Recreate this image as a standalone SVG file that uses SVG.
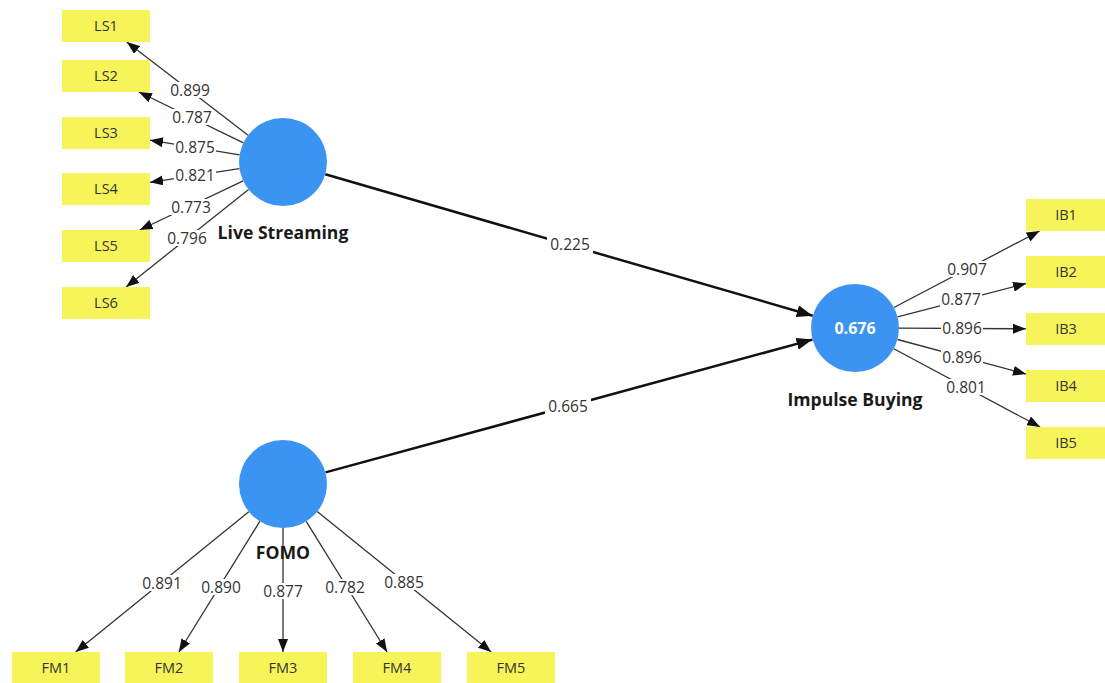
<svg xmlns="http://www.w3.org/2000/svg" width="1105" height="683" viewBox="0 0 1105 683">
<style>
.bg{fill:#ffffff}
.ind rect{fill:#F7F45A}
.ind text{font-family:"Open Sans","Noto Sans",sans-serif;font-size:14.5px;fill:#333;text-anchor:middle}
.lv circle{fill:#3C94F2}
.lvname{font-family:"Open Sans","Noto Sans",sans-serif;font-size:17.6px;font-weight:bold;fill:#1a1a1a;text-anchor:middle}
.r2{font-family:"Open Sans","Noto Sans",sans-serif;font-size:16px;font-weight:bold;fill:#ffffff;text-anchor:middle}
.ld{stroke:#333;stroke-width:1.3;fill:none;marker-end:url(#ah)}
.pth{stroke:#111;stroke-width:2.5;fill:none;marker-end:url(#ahb)}
.lb rect{fill:#ffffff}
.lb text{font-family:"Open Sans","Noto Sans",sans-serif;font-size:15.5px;fill:#333;text-anchor:middle}
</style>
<defs>
<marker id="ah" markerUnits="userSpaceOnUse" markerWidth="13" markerHeight="10" refX="13" refY="5" orient="auto"><path d="M0,0 L13,5 L0,10 z" fill="#111"/></marker>
<marker id="ahb" markerUnits="userSpaceOnUse" markerWidth="16" markerHeight="12" refX="16" refY="6" orient="auto"><path d="M0,0 L16,6 L0,12 z" fill="#111"/></marker>
</defs>
<rect class="bg" x="0" y="0" width="1105" height="683"/>
<g id="connectors">
<line class="pth" x1="325.3" y1="174.3" x2="812.7" y2="315.7"/>
<line class="pth" x1="325.5" y1="472.4" x2="812.5" y2="339.6"/>
<line class="ld" x1="248.1" y1="135.2" x2="126.8" y2="42"/>
<line class="ld" x1="243.4" y1="142.8" x2="138.9" y2="92"/>
<line class="ld" x1="239.6" y1="154.9" x2="150" y2="140.2"/>
<line class="ld" x1="239.5" y1="168.6" x2="150" y2="182.3"/>
<line class="ld" x1="243.2" y1="180.9" x2="139.7" y2="230"/>
<line class="ld" x1="248.6" y1="189.4" x2="126.1" y2="287"/>
<line class="ld" x1="893.9" y1="307.5" x2="1039.6" y2="231"/>
<line class="ld" x1="897.6" y1="316.9" x2="1026" y2="283.5"/>
<line class="ld" x1="899" y1="328.2" x2="1026" y2="328.8"/>
<line class="ld" x1="897.5" y1="339.5" x2="1026" y2="374.1"/>
<line class="ld" x1="893.8" y1="348.8" x2="1040.1" y2="427"/>
<line class="ld" x1="248.8" y1="511.7" x2="75.7" y2="652"/>
<line class="ld" x1="259.8" y1="521.4" x2="178.9" y2="652"/>
<line class="ld" x1="283" y1="528" x2="283" y2="652"/>
<line class="ld" x1="306.2" y1="521.4" x2="387.1" y2="652"/>
<line class="ld" x1="317.2" y1="511.6" x2="491.2" y2="652"/>
<g class="lb">
<rect x="547" y="236" width="46" height="17"/><text x="570" y="250">0.225</text>
<rect x="545" y="398" width="46" height="17"/><text x="568" y="412">0.665</text>
<rect x="169" y="82" width="42" height="16"/><text x="190" y="95.5">0.899</text>
<rect x="171" y="109" width="42" height="16"/><text x="192" y="122.5">0.787</text>
<rect x="174" y="139" width="42" height="16"/><text x="195" y="152.5">0.875</text>
<rect x="174" y="167" width="42" height="16"/><text x="195" y="180.5">0.821</text>
<rect x="170" y="199" width="42" height="16"/><text x="191" y="212.5">0.773</text>
<rect x="166" y="230" width="42" height="16"/><text x="187" y="243.5">0.796</text>
<rect x="946" y="261" width="42" height="16"/><text x="967" y="274.5">0.907</text>
<rect x="940" y="291" width="42" height="16"/><text x="961" y="304.5">0.877</text>
<rect x="941" y="320" width="42" height="16"/><text x="962" y="333.5">0.896</text>
<rect x="941" y="349" width="42" height="16"/><text x="962" y="362.5">0.896</text>
<rect x="945" y="379" width="42" height="16"/><text x="966" y="392.5">0.801</text>
<rect x="141" y="575" width="42" height="16"/><text x="162" y="588.5">0.891</text>
<rect x="200" y="579" width="42" height="16"/><text x="221" y="592.5">0.890</text>
<rect x="262" y="583" width="42" height="16"/><text x="283" y="596.5">0.877</text>
<rect x="324" y="579" width="42" height="16"/><text x="345" y="592.5">0.782</text>
<rect x="383" y="574" width="42" height="16"/><text x="404" y="587.5">0.885</text>
</g>
</g>
<g id="live-streaming" class="lv"><circle cx="283" cy="162" r="44"/><text class="lvname" x="283" y="239">Live Streaming</text></g>
<g id="impulse-buying" class="lv"><circle cx="855" cy="328" r="44"/><text class="r2" x="855" y="334">0.676</text><text class="lvname" x="855" y="406">Impulse Buying</text></g>
<g id="fomo" class="lv"><circle cx="283" cy="484" r="44"/><text class="lvname" x="283" y="559">FOMO</text></g>
<g id="LS1" class="ind"><rect x="62" y="10" width="88" height="32"/><text x="106" y="31">LS1</text></g>
<g id="LS2" class="ind"><rect x="62" y="60" width="88" height="32"/><text x="106" y="81">LS2</text></g>
<g id="LS3" class="ind"><rect x="62" y="117" width="88" height="32"/><text x="106" y="138">LS3</text></g>
<g id="LS4" class="ind"><rect x="62" y="173" width="88" height="32"/><text x="106" y="194">LS4</text></g>
<g id="LS5" class="ind"><rect x="62" y="230" width="88" height="32"/><text x="106" y="251">LS5</text></g>
<g id="LS6" class="ind"><rect x="62" y="287" width="88" height="32"/><text x="106" y="308">LS6</text></g>
<g id="IB1" class="ind"><rect x="1026" y="199" width="88" height="32"/><text x="1066" y="220">IB1</text></g>
<g id="IB2" class="ind"><rect x="1026" y="256" width="88" height="32"/><text x="1066" y="277">IB2</text></g>
<g id="IB3" class="ind"><rect x="1026" y="313" width="88" height="32"/><text x="1066" y="334">IB3</text></g>
<g id="IB4" class="ind"><rect x="1026" y="370" width="88" height="32"/><text x="1066" y="391">IB4</text></g>
<g id="IB5" class="ind"><rect x="1026" y="427" width="88" height="32"/><text x="1066" y="448">IB5</text></g>
<g id="FM1" class="ind"><rect x="12" y="652" width="88" height="32"/><text x="56" y="673">FM1</text></g>
<g id="FM2" class="ind"><rect x="125" y="652" width="88" height="32"/><text x="169" y="673">FM2</text></g>
<g id="FM3" class="ind"><rect x="239" y="652" width="88" height="32"/><text x="283" y="673">FM3</text></g>
<g id="FM4" class="ind"><rect x="353" y="652" width="88" height="32"/><text x="397" y="673">FM4</text></g>
<g id="FM5" class="ind"><rect x="467" y="652" width="88" height="32"/><text x="511" y="673">FM5</text></g>
</svg>
